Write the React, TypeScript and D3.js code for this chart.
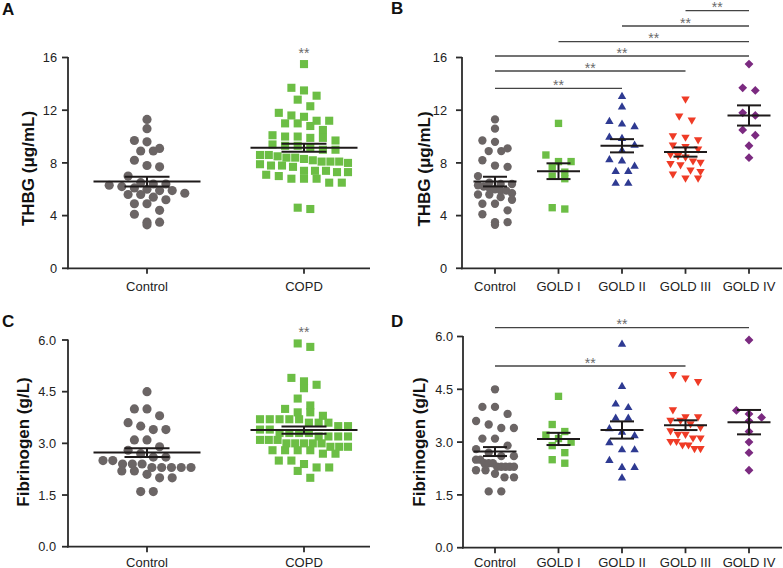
import React from 'react';
import * as d3 from 'd3';

// ---------- data ----------
const catsA = ['Control', 'COPD'];
const catsB = ['Control', 'GOLD I', 'GOLD II', 'GOLD III', 'GOLD IV'];

const thbgControl = [11.3, 10.6, 9.7, 9.6, 9.1, 8.9, 8.9, 8.2, 7.8, 7.7, 7.0, 6.5, 6.4, 6.4, 6.3, 6.1, 6.0, 5.9, 5.9, 5.7, 5.6, 5.6, 5.4, 5.2, 4.9, 4.9, 4.4, 4.1, 3.5, 3.5, 3.3, 6.2];
const thbgGold1 = [11.0, 8.6, 8.1, 8.1, 7.7, 7.3, 7.0, 6.8, 4.5, 4.6];
const thbgGold2 = [13.1, 12.3, 11.2, 11.0, 10.8, 10.0, 9.9, 9.4, 9.0, 8.3, 8.2, 7.8, 7.4, 7.4, 6.5, 6.5];
const thbgGold3 = [12.8, 11.5, 11.2, 10.0, 9.9, 9.7, 9.3, 9.2, 9.0, 8.6, 8.5, 8.4, 8.1, 8.0, 7.9, 7.8, 7.4, 7.3, 7.1, 6.8, 6.8];
const thbgGold4 = [15.5, 13.7, 13.5, 11.8, 11.6, 10.5, 10.1, 9.3, 8.4];
const thbgCOPD = [...thbgGold1, ...thbgGold2, ...thbgGold3, ...thbgGold4];

const fibControl = [4.5, 4.0, 4.0, 3.8, 3.6, 3.5, 3.4, 3.4, 3.1, 3.1, 2.9, 2.8, 2.7, 2.6, 2.5, 2.6, 2.5, 2.4, 2.3, 2.4, 2.4, 2.3, 2.3, 2.3, 2.3, 2.2, 2.2, 2.1, 2.0, 2.0, 1.6, 1.6];
const fibGold1 = [4.3, 3.5, 3.3, 3.2, 3.1, 3.0, 2.9, 2.7, 2.5, 2.4];
const fibGold2 = [5.8, 4.6, 4.1, 4.0, 3.7, 3.7, 3.4, 3.3, 3.2, 3.0, 2.8, 2.8, 2.5, 2.3, 2.3, 2.0];
const fibGold3 = [4.9, 4.8, 4.7, 3.9, 3.7, 3.7, 3.6, 3.6, 3.5, 3.4, 3.3, 3.2, 3.2, 3.1, 3.1, 3.0, 3.0, 2.9, 2.9, 2.8, 2.8];
const fibGold4 = [5.9, 3.9, 3.8, 3.7, 3.6, 3.3, 3.0, 2.7, 2.2];
const fibCOPD = [...fibGold1, ...fibGold2, ...fibGold3, ...fibGold4];

const thbgTicks = [0, 4, 8, 12, 16];
const fibTicks = [0, 1.5, 3.0, 4.5, 6.0];

const bracketsB: [string, string][] = [
  ['Control', 'GOLD II'], ['Control', 'GOLD III'], ['Control', 'GOLD IV'],
  ['GOLD I', 'GOLD IV'], ['GOLD II', 'GOLD IV'], ['GOLD III', 'GOLD IV'],
];
const bracketsD: [string, string][] = [['Control', 'GOLD III'], ['Control', 'GOLD IV']];

// ---------- styles ----------
const FONT = '"Liberation Sans", Arial, Helvetica, sans-serif';
const AXIS = '#2b2b2b';
const TEXT = '#222';
const COL = {
  grey: '#6b6565',
  green: '#6cbe45',
  blue: '#2e3a92',
  red: '#ef3b26',
  purple: '#7b2a80',
};

type Shape = 'circle' | 'square' | 'up' | 'down' | 'diamond';

function Marker({ shape, x, y, color, s }: { shape: Shape; x: number; y: number; color: string; s: number }) {
  if (shape === 'circle') return <circle cx={x} cy={y} r={s * 0.52} fill={color} />;
  let d = '';
  const h = s / 2;
  if (shape === 'square') d = `M${-h * 0.92},${-h * 0.92}H${h * 0.92}V${h * 0.92}H${-h * 0.92}Z`;
  if (shape === 'up') d = `M0,${-h}L${h * 1.05},${h * 0.8}L${-h * 1.05},${h * 0.8}Z`;
  if (shape === 'down') d = `M0,${h}L${h * 1.05},${-h * 0.8}L${-h * 1.05},${-h * 0.8}Z`;
  if (shape === 'diamond') d = `M0,${-h * 1.1}L${h * 1.1},0L0,${h * 1.1}L${-h * 1.1},0Z`;
  return <path d={d} transform={`translate(${x},${y})`} fill={color} />;
}

function swarm(values: number[], y: (v: number) => number, cx: number, colSpacing: number, maxHalf: number, bin: number) {
  const pts = values.map((v) => ({ v, py: y(v) })).sort((a, b) => a.py - b.py);
  const rows: { v: number; py: number }[][] = [];
  let cur: { v: number; py: number }[] = [];
  let start: number | null = null;
  for (const p of pts) {
    if (start === null || p.py - start >= bin) {
      if (cur.length) rows.push(cur);
      cur = [p];
      start = p.py;
    } else cur.push(p);
  }
  if (cur.length) rows.push(cur);
  const out: { x: number; y: number }[] = [];
  for (const row of rows) {
    const n = row.length;
    const s = n > 1 ? Math.min(colSpacing, (2 * maxHalf) / (n - 1)) : 0;
    row.forEach((p, i) => out.push({ x: cx + (i - (n - 1) / 2) * s, y: p.py }));
  }
  return out;
}

type Group = { cat: string; values: number[]; shape: Shape; color: string; maxHalf?: number };

type PanelProps = {
  letter: string; letterX: number; letterY: number;
  axisX: number; axisEnd: number; yBottom: number; yTop: number;
  domainMax: number; ticks: number[]; fmt: (v: number) => string; labelGap: number;
  cats: string[]; catFirst: number; catLast: number; catLabelY: number;
  groups: Group[];
  meanHalf: number; capHalf: number; maxHalf: number; markerSize: number;
  title: string; titleX: number; titleY: number;
  brackets?: [string, string][]; bracketYs?: number[];
  star?: { cat: string; y: number };
};

function Panel(p: PanelProps) {
  const y = d3.scaleLinear().domain([0, p.domainMax]).range([p.yBottom, p.yTop]);
  const x = d3.scalePoint<string>().domain(p.cats).range([p.catFirst, p.catLast]);
  return (
    <g>
      <text x={p.letterX} y={p.letterY} fontFamily={FONT} fontWeight="bold" fontSize={17} fill="#111">{p.letter}</text>
      {p.groups.map((g) => {
        const pts = swarm(g.values, y, x(g.cat)!, 12.6, g.maxHalf ?? p.maxHalf, 8.5);
        return (
          <g key={g.cat}>
            {pts.map((pt, i) => (
              <Marker key={i} shape={g.shape} x={pt.x} y={pt.y} color={g.color} s={p.markerSize} />
            ))}
          </g>
        );
      })}
      {p.groups.map((g) => {
        const m = d3.mean(g.values)!;
        const sem = d3.deviation(g.values)! / Math.sqrt(g.values.length);
        const cx = x(g.cat)!;
        return (
          <g key={'m' + g.cat} stroke="#1e1a1a" strokeWidth={2} fill="none">
            <line x1={cx - p.meanHalf} x2={cx + p.meanHalf} y1={y(m)} y2={y(m)} />
            <line x1={cx} x2={cx} y1={y(m - sem)} y2={y(m + sem)} />
            <line x1={cx - p.capHalf} x2={cx + p.capHalf} y1={y(m + sem)} y2={y(m + sem)} />
            <line x1={cx - p.capHalf} x2={cx + p.capHalf} y1={y(m - sem)} y2={y(m - sem)} />
          </g>
        );
      })}
      <g stroke={AXIS} strokeWidth={1.8} fill="none">
        <line x1={p.axisX} x2={p.axisX} y1={p.yTop - 0.5} y2={p.yBottom + 0.9} />
        <line x1={p.axisX - 0.9} x2={p.axisEnd} y1={p.yBottom} y2={p.yBottom} />
        {p.ticks.map((t) => (
          <line key={t} x1={p.axisX - 6} x2={p.axisX} y1={y(t)} y2={y(t)} />
        ))}
        {p.cats.map((c) => (
          <line key={c} x1={x(c)!} x2={x(c)!} y1={p.yBottom} y2={p.yBottom + 5.5} />
        ))}
      </g>
      {p.ticks.map((t) => (
        <text key={t} x={p.axisX - p.labelGap} y={y(t)} dy="0.36em" textAnchor="end" fontFamily={FONT} fontSize={12.8} fill={TEXT}>
          {p.fmt(t)}
        </text>
      ))}
      {p.cats.map((c) => (
        <text key={c} x={x(c)!} y={p.catLabelY} textAnchor="middle" fontFamily={FONT} fontSize={13} fill={TEXT}>{c}</text>
      ))}
      <text transform={`translate(${p.titleX},${p.titleY}) rotate(-90)`} textAnchor="middle" fontFamily={FONT} fontWeight="bold" fontSize={17} fill="#111">
        {p.title}
      </text>
      {p.brackets && p.bracketYs && p.brackets.map(([a, b], i) => {
        const by = p.bracketYs![i];
        const x1 = x(a)!, x2 = x(b)!;
        return (
          <g key={a + b}>
            <line x1={x1} x2={x2} y1={by} y2={by} stroke="#444" strokeWidth={1.3} />
            <text x={(x1 + x2) / 2} y={by + 1.5} textAnchor="middle" fontFamily={FONT} fontSize={14} fill="#6a6a6a">**</text>
          </g>
        );
      })}
      {p.star && (
        <text x={x(p.star.cat)!} y={p.star.y} textAnchor="middle" fontFamily={FONT} fontSize={14} fill="#6a6a6a">**</text>
      )}
    </g>
  );
}

const fmtInt = (v: number) => d3.format('d')(v);
const fmt1 = (v: number) => d3.format('.1f')(v);

export default function App() {
  return (
    <svg width={783} height={568} style={{ position: 'absolute', left: 0, top: 0, background: '#fff' }}>
      <Panel
        letter="A" letterX={2} letterY={15}
        axisX={68} axisEnd={370} yBottom={268.3} yTop={57.5}
        domainMax={16} ticks={thbgTicks} fmt={fmtInt} labelGap={11}
        cats={catsA} catFirst={147} catLast={304} catLabelY={290.5}
        groups={[
          { cat: 'Control', values: thbgControl, shape: 'circle', color: COL.grey },
          { cat: 'COPD', values: thbgCOPD, shape: 'square', color: COL.green },
        ]}
        meanHalf={53.5} capHalf={22.5} maxHalf={44} markerSize={8.8}
        title="THBG (μg/mL)" titleX={33.5} titleY={168.5}
        star={{ cat: 'COPD', y: 58 }}
      />
      <Panel
        letter="B" letterX={391} letterY={14}
        axisX={462} axisEnd={782} yBottom={268.3} yTop={57.5}
        domainMax={16} ticks={thbgTicks} fmt={fmtInt} labelGap={15}
        cats={catsB} catFirst={495} catLast={749} catLabelY={290.5}
        groups={[
          { cat: 'Control', values: thbgControl, shape: 'circle', color: COL.grey, maxHalf: 17 },
          { cat: 'GOLD I', values: thbgGold1, shape: 'square', color: COL.green },
          { cat: 'GOLD II', values: thbgGold2, shape: 'up', color: COL.blue },
          { cat: 'GOLD III', values: thbgGold3, shape: 'down', color: COL.red },
          { cat: 'GOLD IV', values: thbgGold4, shape: 'diamond', color: COL.purple },
        ]}
        meanHalf={21.5} capHalf={12} maxHalf={15} markerSize={8}
        title="THBG (μg/mL)" titleX={430} titleY={169}
        brackets={bracketsB} bracketYs={[88.3, 71, 56, 41.7, 26, 10.7]}
      />
      <Panel
        letter="C" letterX={2} letterY={327}
        axisX={68} axisEnd={370} yBottom={546.7} yTop={340}
        domainMax={6} ticks={fibTicks} fmt={fmt1} labelGap={12}
        cats={catsA} catFirst={147} catLast={304} catLabelY={566.5}
        groups={[
          { cat: 'Control', values: fibControl, shape: 'circle', color: COL.grey },
          { cat: 'COPD', values: fibCOPD, shape: 'square', color: COL.green },
        ]}
        meanHalf={53.5} capHalf={22.5} maxHalf={44} markerSize={8.8}
        title="Fibrinogen (g/L)" titleX={28.5} titleY={442}
        star={{ cat: 'COPD', y: 337 }}
      />
      <Panel
        letter="D" letterX={391} letterY={327}
        axisX={463} axisEnd={782} yBottom={547.7} yTop={336.5}
        domainMax={6} ticks={fibTicks} fmt={fmt1} labelGap={10}
        cats={catsB} catFirst={495} catLast={749} catLabelY={566.5}
        groups={[
          { cat: 'Control', values: fibControl, shape: 'circle', color: COL.grey, maxHalf: 19 },
          { cat: 'GOLD I', values: fibGold1, shape: 'square', color: COL.green },
          { cat: 'GOLD II', values: fibGold2, shape: 'up', color: COL.blue },
          { cat: 'GOLD III', values: fibGold3, shape: 'down', color: COL.red },
          { cat: 'GOLD IV', values: fibGold4, shape: 'diamond', color: COL.purple },
        ]}
        meanHalf={21.5} capHalf={12} maxHalf={15} markerSize={8}
        title="Fibrinogen (g/L)" titleX={425} titleY={442}
        brackets={bracketsD} bracketYs={[366, 327.7]}
      />
    </svg>
  );
}
